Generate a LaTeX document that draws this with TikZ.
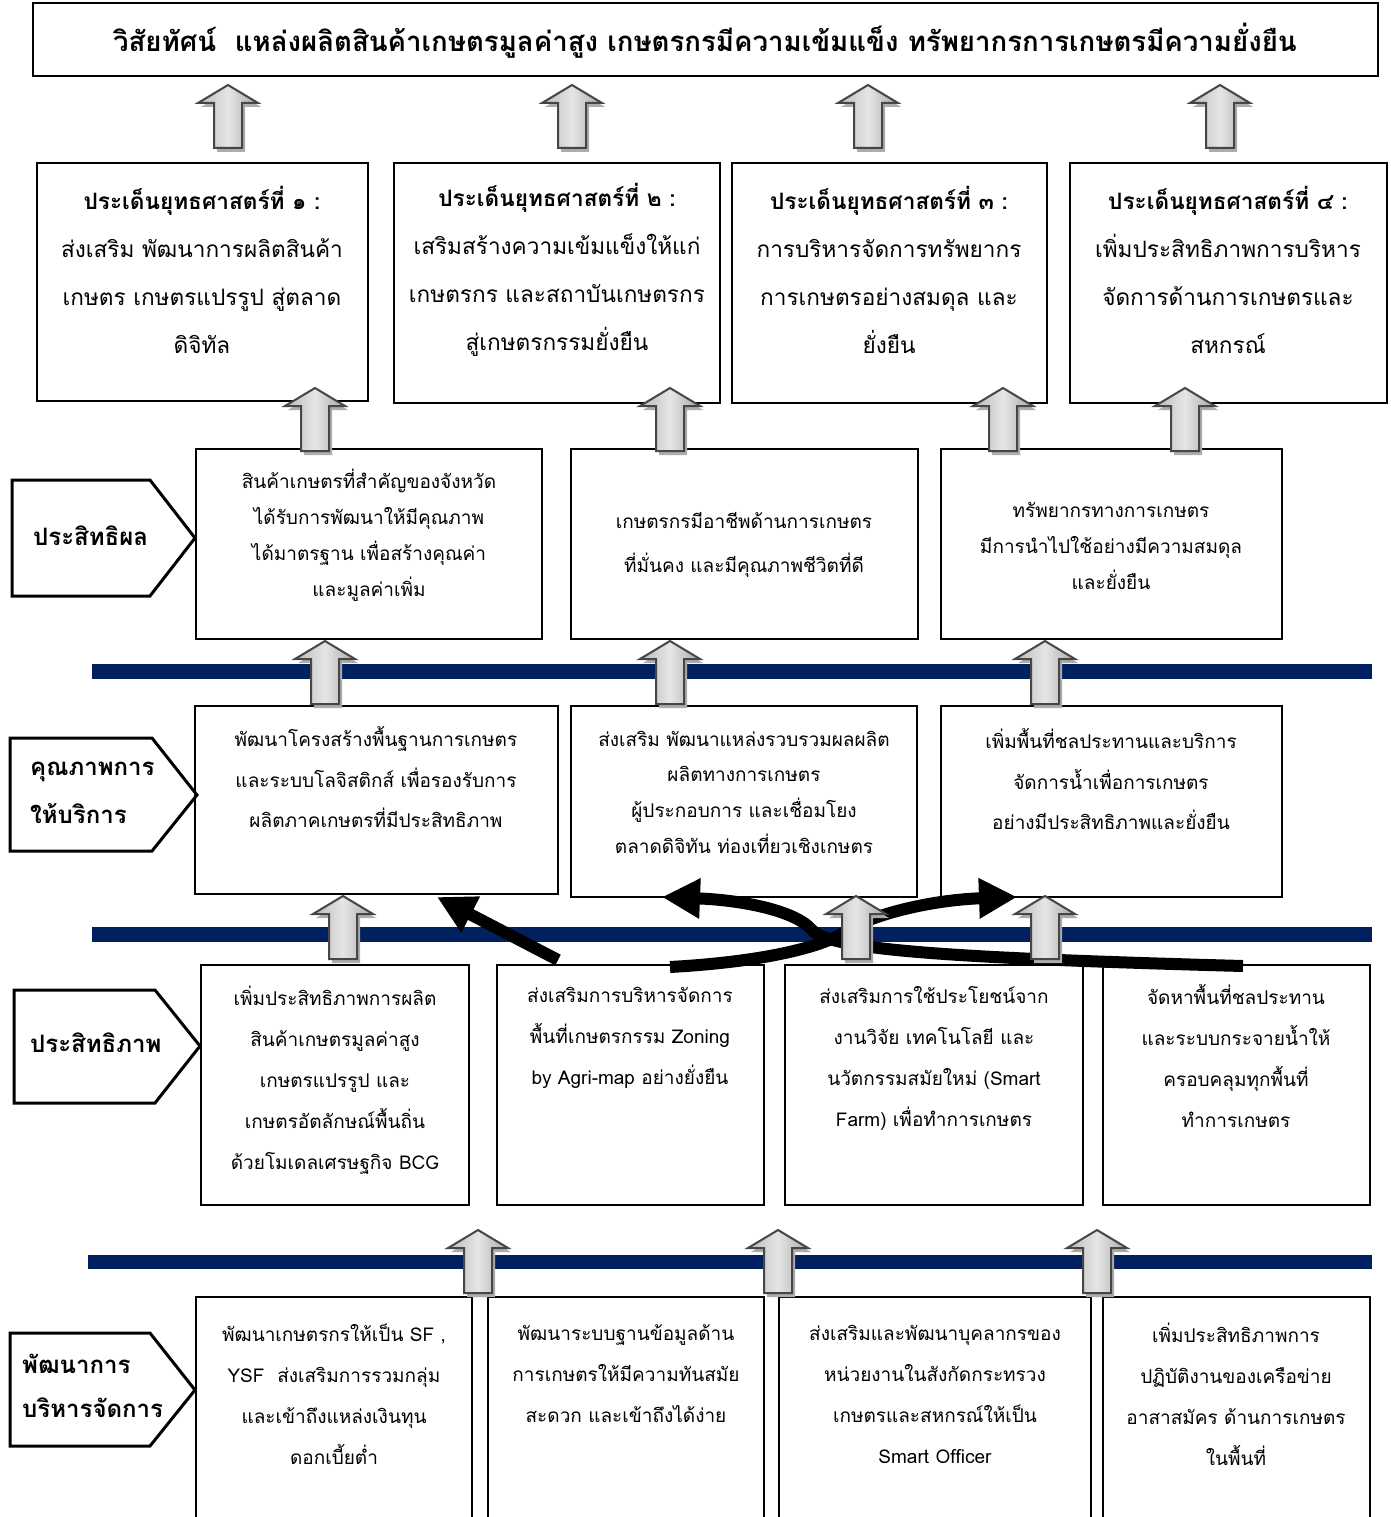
\documentclass[tikz,border=0pt]{standalone}
\usepackage{fontspec}
\setmainfont[Script=Thai]{Loma}
\usetikzlibrary{arrows.meta}
\definecolor{navy}{RGB}{0,32,96}
\newcommand{\bx}[5]{\node[box, anchor=north west, minimum width={(#4-#2)*1pt}, minimum height={(#5-#3)*1pt}] (#1) at (#2,#3) {};}
\tikzset{
  box/.style={draw=black, line width=1.5pt, fill=white, inner sep=0pt, outer sep=0pt},
  txt/.style={inner sep=0pt, align=center},
  lbl/.style={inner sep=0pt, align=left, anchor=west, font=\bfseries\fontsize{24}{48}\selectfont},
  pent/.style={draw=black, line width=3pt},
  bar/.style={fill=navy, draw=none},
  ftit/.style={font=\bfseries\fontsize{27.6}{30}\selectfont},
  fstr/.style={font=\fontsize{22.6}{48}\selectfont},
  frow/.style={font=\fontsize{19}{41}\selectfont},
  curv/.style={line width=12pt, -{Triangle[length=38pt,width=38pt]}},
  garrow/.pic={
    \fill[gray!65] (3,4) -- (33,22) -- (17,22) -- (17,67) -- (-11,67) -- (-11,22) -- (-27,22) -- cycle;
    \draw[draw=gray!55!black, line width=2pt, left color=gray!55, right color=gray!70, middle color=gray!20]
      (0,0) -- (30,18) -- (14,18) -- (14,63) -- (-14,63) -- (-14,18) -- (-30,18) -- cycle;
  }
}
\begin{document}
\begin{tikzpicture}[x=1pt, y={(0pt,-1pt)}]
\clip (0,0) rectangle (1391,1517);
\fill[white] (0,0) rectangle (1391,1517);

% navy bars
\fill[bar] (92,664) rectangle (1372,679);
\fill[bar] (92,927) rectangle (1372,942);
\fill[bar] (88,1255) rectangle (1372,1269);

% title
\node[box, line width=2pt, anchor=north west, minimum width=1345pt, minimum height=73pt] (title) at (33,3) {};
\node[txt, ftit] (titletxt) at (705,41) {วิสัยทัศน์\ \ แหล่งผลิตสินค้าเกษตรมูลค่าสูง เกษตรกรมีความเข้มแข็ง ทรัพยากรการเกษตรมีความยั่งยืน};

% strategy boxes
\bx{s1}{37}{163}{368}{401}
\bx{s2}{394}{163}{720}{403}
\bx{s3}{732}{163}{1047}{403}
\bx{s4}{1070}{163}{1387}{403}
\node[txt, fstr] (s1t) at (202,270) {{\bfseries ประเด็นยุทธศาสตร์ที่ ๑ :}\\ส่งเสริม พัฒนาการผลิตสินค้า\\เกษตร เกษตรแปรรูป สู่ตลาด\\ดิจิทัล};
\node[txt, fstr] (s2t) at (557,270) {{\bfseries ประเด็นยุทธศาสตร์ที่ ๒ :}\\เสริมสร้างความเข้มแข็งให้แก่\\เกษตรกร และสถาบันเกษตรกร\\สู่เกษตรกรรมยั่งยืน};
\node[txt, fstr] (s3t) at (889,270) {{\bfseries ประเด็นยุทธศาสตร์ที่ ๓ :}\\การบริหารจัดการทรัพยากร\\การเกษตรอย่างสมดุล และ\\ยั่งยืน};
\node[txt, fstr] (s4t) at (1228,270) {{\bfseries ประเด็นยุทธศาสตร์ที่ ๔ :}\\เพิ่มประสิทธิภาพการบริหาร\\จัดการด้านการเกษตรและ\\สหกรณ์};

% row 1: effectiveness
\bx{e1}{196}{449}{542}{639}
\bx{e2}{571}{449}{918}{639}
\bx{e3}{941}{449}{1282}{639}
\node[txt, font=\fontsize{19}{36}\selectfont] (e1t) at (369,535) {สินค้าเกษตรที่สำคัญของจังหวัด\\ได้รับการพัฒนาให้มีคุณภาพ\\ได้มาตรฐาน เพื่อสร้างคุณค่า\\และมูลค่าเพิ่ม};
\node[txt, font=\fontsize{19}{44}\selectfont] (e2t) at (744,545) {เกษตรกรมีอาชีพด้านการเกษตร\\ที่มั่นคง และมีคุณภาพชีวิตที่ดี};
\node[txt, font=\fontsize{19}{36}\selectfont] (e3t) at (1111,546) {ทรัพยากรทางการเกษตร\\มีการนำไปใช้อย่างมีความสมดุล\\และยั่งยืน};

% row 2: service quality
\bx{q1}{195}{706}{558}{894}
\bx{q2}{571}{706}{917}{897}
\bx{q3}{941}{706}{1282}{897}
\node[txt, font=\fontsize{19}{40.5}\selectfont] (q1t) at (376,777) {พัฒนาโครงสร้างพื้นฐานการเกษตร\\และระบบโลจิสติกส์ เพื่อรองรับการ\\ผลิตภาคเกษตรที่มีประสิทธิภาพ};
\node[txt, font=\fontsize{19}{35.7}\selectfont] (q2t) at (744,792) {ส่งเสริม พัฒนาแหล่งรวบรวมผลผลิต\\ผลิตทางการเกษตร\\ผู้ประกอบการ และเชื่อมโยง\\ตลาดดิจิทัน ท่องเที่ยวเชิงเกษตร};
\node[txt, font=\fontsize{19}{40.5}\selectfont] (q3t) at (1111,779) {เพิ่มพื้นที่ชลประทานและบริการ\\จัดการน้ำเพื่อการเกษตร\\อย่างมีประสิทธิภาพและยั่งยืน};

% row 3: efficiency
\bx{f1}{201}{965}{469}{1205}
\bx{f2}{497}{965}{764}{1205}
\bx{f3}{785}{965}{1083}{1205}
\bx{f4}{1103}{965}{1370}{1205}
\node[txt, frow] (f1t) at (335,1080) {เพิ่มประสิทธิภาพการผลิต\\สินค้าเกษตรมูลค่าสูง\\เกษตรแปรรูป และ\\เกษตรอัตลักษณ์พื้นถิ่น\\ด้วยโมเดลเศรษฐกิจ BCG};
\node[txt, frow] (f2t) at (630,1038) {ส่งเสริมการบริหารจัดการ\\พื้นที่เกษตรกรรม Zoning\\by Agri-map อย่างยั่งยืน};
\node[txt, frow] (f3t) at (934,1058) {ส่งเสริมการใช้ประโยชน์จาก\\งานวิจัย เทคโนโลยี และ\\นวัตกรรมสมัยใหม่ (Smart\\Farm) เพื่อทำการเกษตร};
\node[txt, frow] (f4t) at (1236,1056) {จัดหาพื้นที่ชลประทาน\\และระบบกระจายน้ำให้\\ครอบคลุมทุกพื้นที่\\ทำการเกษตร};

% row 4: management
\bx{m1}{196}{1297}{472}{1530}
\bx{m2}{488}{1297}{764}{1530}
\bx{m3}{779}{1297}{1091}{1530}
\bx{m4}{1103}{1297}{1370}{1530}
\node[txt, frow] (m1t) at (334,1394) {พัฒนาเกษตรกรให้เป็น SF ,\\YSF\ \ ส่งเสริมการรวมกลุ่ม\\และเข้าถึงแหล่งเงินทุน\\ดอกเบี้ยต่ำ};
\node[txt, frow] (m2t) at (626,1374) {พัฒนาระบบฐานข้อมูลด้าน\\การเกษตรให้มีความทันสมัย\\สะดวก และเข้าถึงได้ง่าย};
\node[txt, frow] (m3t) at (935,1394) {ส่งเสริมและพัฒนาบุคลากรของ\\หน่วยงานในสังกัดกระทรวง\\เกษตรและสหกรณ์ให้เป็น\\Smart Officer};
\node[txt, frow] (m4t) at (1236,1394) {เพิ่มประสิทธิภาพการ\\ปฏิบัติงานของเครือข่าย\\อาสาสมัคร ด้านการเกษตร\\ในพื้นที่};

% left labels
\draw[pent] (12,480) -- (150,480) -- (195,538) -- (150,596) -- (12,596) -- cycle;
\node[lbl] (l1) at (33,536) {ประสิทธิผล};
\draw[pent] (10,738) -- (152,738) -- (197,795) -- (152,851) -- (10,851) -- cycle;
\node[lbl] (l2) at (30,793) {คุณภาพการ\\ให้บริการ};
\draw[pent] (14,990) -- (155,990) -- (200,1046) -- (155,1103) -- (14,1103) -- cycle;
\node[lbl] (l3) at (30,1043) {ประสิทธิภาพ};
\draw[pent] (10,1333) -- (150,1333) -- (195,1390) -- (150,1446) -- (10,1446) -- cycle;
\node[lbl, font=\bfseries\fontsize{24}{44}\selectfont] (l4) at (22,1386) {พัฒนาการ\\บริหารจัดการ};

% black curved arrows
\coordinate (c1s) at (558,960);
\coordinate (c2s) at (1243,966);
\coordinate (c3s) at (670,967);
\draw[curv] (c1s) -- (437,897);
\draw[curv] (c2s) .. controls (950,958) and (830,950) .. (812,930) .. controls (795,910) and (740,900) .. (662,897);
\draw[curv] (c3s) .. controls (760,962) and (820,948) .. (845,932) .. controls (870,915) and (930,900) .. (1017,897);

% gray arrows
\foreach \x in {228,572,868,1220} \pic at (\x,85) {garrow};
\foreach \x in {315,670,1003,1185} \pic at (\x,388) {garrow};
\foreach \x in {325,670,1045} \pic at (\x,641) {garrow};
\foreach \x in {343,856,1045} \pic at (\x,896) {garrow};
\foreach \x in {478,778,1097} \pic at (\x,1230) {garrow};
\end{tikzpicture}
\end{document}
